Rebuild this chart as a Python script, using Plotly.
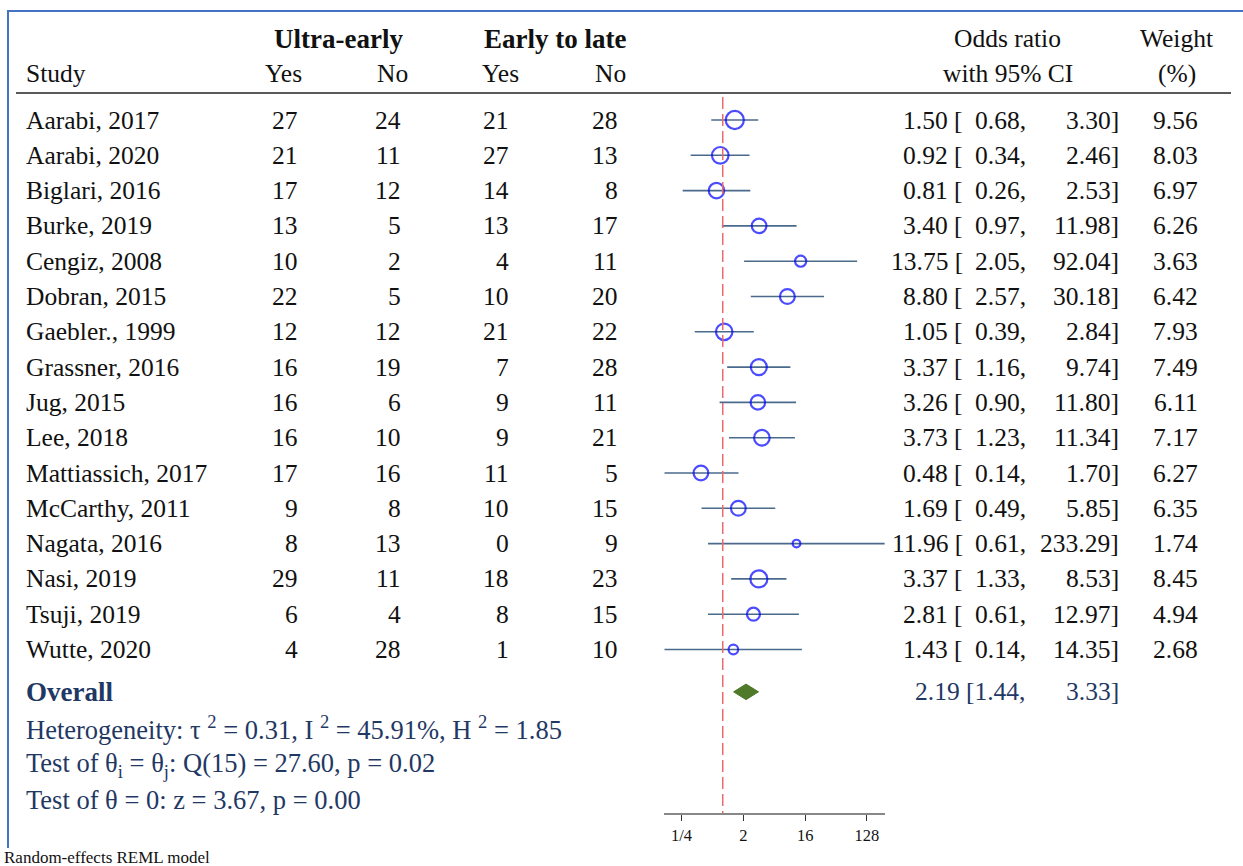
import math
import plotly.graph_objects as go

# ---------------- data ----------------
studies = ["Aarabi, 2017", "Aarabi, 2020", "Biglari, 2016", "Burke, 2019", "Cengiz, 2008",
           "Dobran, 2015", "Gaebler., 1999", "Grassner, 2016", "Jug, 2015", "Lee, 2018",
           "Mattiassich, 2017", "McCarthy, 2011", "Nagata, 2016", "Nasi, 2019", "Tsuji, 2019",
           "Wutte, 2020"]
ue_yes = [27, 21, 17, 13, 10, 22, 12, 16, 16, 16, 17, 9, 8, 29, 6, 4]
ue_no = [24, 11, 12, 5, 2, 5, 12, 19, 6, 10, 16, 8, 13, 11, 4, 28]
el_yes = [21, 27, 14, 13, 4, 10, 21, 7, 9, 9, 11, 10, 0, 18, 8, 1]
el_no = [28, 13, 8, 17, 11, 20, 22, 28, 11, 21, 5, 15, 9, 23, 15, 10]
odds = [1.50, 0.92, 0.81, 3.40, 13.75, 8.80, 1.05, 3.37, 3.26, 3.73, 0.48, 1.69, 11.96, 3.37, 2.81, 1.43]
ci_lo = [0.68, 0.34, 0.26, 0.97, 2.05, 2.57, 0.39, 1.16, 0.90, 1.23, 0.14, 0.49, 0.61, 1.33, 0.61, 0.14]
ci_hi = [3.30, 2.46, 2.53, 11.98, 92.04, 30.18, 2.84, 9.74, 11.80, 11.34, 1.70, 5.85, 233.29, 8.53, 12.97, 14.35]
weights = [9.56, 8.03, 6.97, 6.26, 3.63, 6.42, 7.93, 7.49, 6.11, 7.17, 6.27, 6.35, 1.74, 8.45, 4.94, 2.68]
overall_est, overall_lo, overall_hi = 2.19, 1.44, 3.33
tick_vals = [0.25, 2, 16, 128]
tick_text = ["1/4", "2", "16", "128"]
het_lines = [
    "Heterogeneity: τ <sup>2</sup> = 0.31, I <sup>2</sup> = 45.91%, H <sup>2</sup> = 1.85",
    "Test of θ<sub>i</sub> = θ<sub>j</sub>: Q(15) = 27.60, p = 0.02",
    "Test of θ = 0: z = 3.67, p = 0.00",
]

# ---------------- layout constants ----------------
W, H = 1243, 866
FONT = "Liberation Serif"
FS = 25.5
FS_BOLD = 27
FS_HET = 26.5
BLACK = "#111111"
NAVY = "#1F3864"
ROW0, ROWH = 120.0, 35.3
n = len(studies)
rows = list(range(n))
y_overall = 16.2
y_het = [17.22, 18.27, 19.26]
y_top_hdr, y_sub_hdr = -2.3, -1.33
axis_px = 813.3
y_bottom = (axis_px - ROW0) / ROWH
y_top = -ROW0 / ROWH

def px(x):
    return x / W

fig = go.Figure()

# CI lines
xs, ys = [], []
for i in rows:
    xs += [ci_lo[i], ci_hi[i], None]
    ys += [i, i, None]
fig.add_trace(go.Scatter(x=xs, y=ys, mode="lines", line=dict(color="#4A6A8C", width=1.6),
                         hoverinfo="skip", showlegend=False))
# markers
fig.add_trace(go.Scatter(x=odds, y=rows, mode="markers",
                         marker=dict(symbol="circle-open", color="#0000FF",
                                     size=[5.85 * math.sqrt(w) for w in weights],
                                     line=dict(width=2.2, color="#0000FF")),
                         showlegend=False))
# overall diamond
dh = 0.22
fig.add_trace(go.Scatter(x=[overall_lo, overall_est, overall_hi, overall_est, overall_lo],
                         y=[y_overall, y_overall - dh, y_overall, y_overall + dh, y_overall],
                         mode="lines", fill="toself", fillcolor="#4E7A2A",
                         line=dict(color="#4E7A2A", width=1), showlegend=False))

ann = []

def add(text, x, y, anchor="left", color=BLACK, size=FS, bold=False, yref="y"):
    if bold:
        text = "<b>" + text + "</b>"
    ann.append(dict(text=text, x=px(x), y=y, xref="paper", yref=yref, xanchor=anchor,
                    yanchor="middle", showarrow=False,
                    font=dict(family=FONT, size=size, color=color)))

# headers
add("Ultra-early", 338, y_top_hdr, "center", bold=True, size=FS_BOLD)
add("Early to late", 555, y_top_hdr, "center", bold=True, size=FS_BOLD)
add("Odds ratio", 1007, y_top_hdr, "center")
add("Weight", 1176, y_top_hdr, "center")
add("Study", 24, y_sub_hdr, "left")
add("Yes", 283, y_sub_hdr, "center")
add("No", 392, y_sub_hdr, "center")
add("Yes", 500, y_sub_hdr, "center")
add("No", 610, y_sub_hdr, "center")
add("with 95% CI", 1008, y_sub_hdr, "center")
add("(%)", 1177, y_sub_hdr, "center")

# rows
for i in rows:
    add(studies[i], 24, i, "left")
    add(str(ue_yes[i]), 300, i, "right")
    add(str(ue_no[i]), 403, i, "right")
    add(str(el_yes[i]), 511, i, "right")
    add(str(el_no[i]), 620, i, "right")
    add(f"{odds[i]:.2f} [", 965, i, "right")
    add(f"{ci_lo[i]:.2f},", 1028, i, "right")
    add(f"{ci_hi[i]:.2f}]", 1121, i, "right")
    add(f"{weights[i]:.2f}", 1200, i, "right")

# overall
add("Overall", 24, y_overall, "left", color=NAVY, bold=True, size=FS_BOLD)
add(f"{overall_est:.2f} [{overall_lo:.2f},", 1028, y_overall, "right", color=NAVY)
add(f"{overall_hi:.2f}]", 1121, y_overall, "right", color=NAVY)
for t, yy in zip(het_lines, y_het):
    add(t, 24, yy, "left", color=NAVY, size=FS_HET)

# footer
ann.append(dict(text="Random-effects REML model", x=px(2), y=1 - 857 / H, xref="paper", yref="paper",
                xanchor="left", yanchor="middle", showarrow=False,
                font=dict(family=FONT, size=17, color=BLACK)))

shapes = [
    # reference line at OR = 1
    dict(type="line", xref="x", yref="y", x0=1, x1=1, y0=-0.65, y1=y_bottom,
         line=dict(color="#EE6A6A", width=1.5, dash="12px,5px")),
    # header rule
    dict(type="line", xref="paper", yref="paper", x0=px(16), x1=px(1231),
         y0=1 - 93 / H, y1=1 - 93 / H, line=dict(color="#222222", width=1.6)),
    # blue frame
    dict(type="line", xref="paper", yref="paper", x0=px(7), x1=1.0,
         y0=1 - 11 / H, y1=1 - 11 / H, line=dict(color="#4472C4", width=2)),
    dict(type="line", xref="paper", yref="paper", x0=px(8), x1=px(8),
         y0=1 - 11 / H, y1=1 - 848 / H, line=dict(color="#4472C4", width=2)),
]

xmin, xmax = min(ci_lo), max(ci_hi)
fig.update_layout(
    width=W, height=H, margin=dict(l=0, r=0, t=0, b=0),
    paper_bgcolor="white", plot_bgcolor="white",
    showlegend=False, annotations=ann, shapes=shapes,
    xaxis=dict(type="log", domain=[px(664.3), px(884.8)],
               range=[math.log10(xmin), math.log10(xmax)],
               tickvals=tick_vals, ticktext=tick_text, ticks="outside", ticklen=6,
               tickcolor="#333333", tickwidth=1.2,
               showline=True, linecolor="#888888", linewidth=1.6,
               showgrid=False, zeroline=False,
               tickfont=dict(family=FONT, size=16.5, color=BLACK)),
    yaxis=dict(domain=[1 - axis_px / H, 1], range=[y_bottom, y_top],
               visible=False, showgrid=False, zeroline=False),
)

fig.write_html("out.html")
